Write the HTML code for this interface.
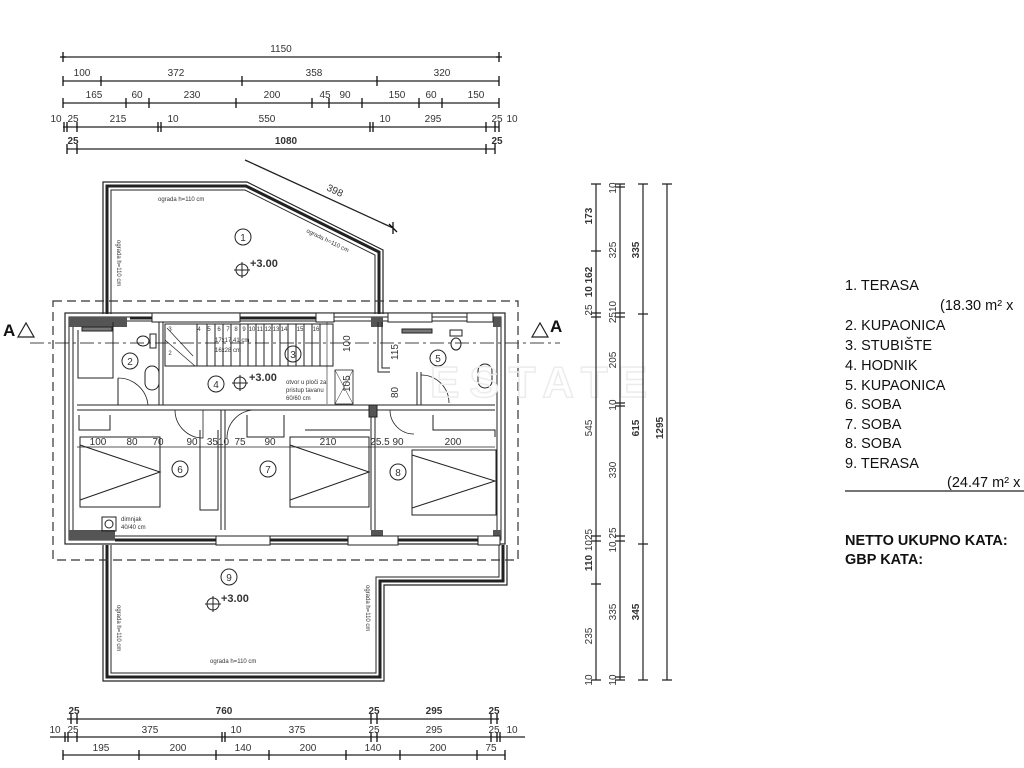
<!DOCTYPE html>
<html><head><meta charset="utf-8"><style>
html,body{margin:0;padding:0;background:#fff;}
svg{display:block}
text{font-family:"Liberation Sans",sans-serif;fill:#333}
.d{stroke:#222;stroke-width:1.3;fill:none}
.t{stroke:#111;stroke-width:1.3}
.w{stroke:#222;fill:none}
.lg{font-size:14.5px;fill:#111}
</style></head><body>
<svg width="1024" height="768" viewBox="0 0 1024 768" xmlns="http://www.w3.org/2000/svg">
<!-- TOP DIMENSIONS -->
<g font-size="10" text-anchor="middle">
<line class="d" x1="63" y1="57" x2="499" y2="57"/>
<path class="t" d="M63 52v10M499 52v10M60 57h6M496 57h6"/>
<text x="281" y="52">1150</text>

<line class="d" x1="63" y1="81" x2="499" y2="81"/>
<path class="t" d="M63 76v10M101 76v10M242 76v10M377 76v10M499 76v10"/>
<text x="82" y="76">100</text><text x="176" y="76">372</text><text x="314" y="76">358</text><text x="442" y="76">320</text>

<line class="d" x1="63" y1="103" x2="499" y2="103"/>
<path class="t" d="M63 98v10M126 98v10M149 98v10M236 98v10M312 98v10M329 98v10M362 98v10M419 98v10M442 98v10M499 98v10"/>
<text x="94" y="98">165</text><text x="137" y="98">60</text><text x="192" y="98">230</text><text x="272" y="98">200</text><text x="325" y="98">45</text><text x="345" y="98">90</text><text x="397" y="98">150</text><text x="431" y="98">60</text><text x="476" y="98">150</text>

<line class="d" x1="63" y1="127" x2="499" y2="127"/>
<path class="t" d="M64 122v10M67 122v10M77 122v10M158 122v10M161 122v10M370 122v10M373 122v10M486 122v10M495 122v10M499 122v10"/>
<text x="56" y="122">10</text><text x="73" y="122">25</text><text x="118" y="122">215</text><text x="173" y="122">10</text><text x="267" y="122">550</text><text x="385" y="122">10</text><text x="433" y="122">295</text><text x="497" y="122">25</text><text x="512" y="122">10</text>

<line class="d" x1="67" y1="149" x2="495" y2="149"/>
<path class="t" d="M67 144v10M77 144v10M486 144v10M495 144v10"/>
<text x="73" y="144" font-weight="bold">25</text><text x="286" y="144" font-weight="bold">1080</text><text x="497" y="144" font-weight="bold">25</text>
</g>

<!-- diagonal dim 398 -->
<line class="d" x1="245" y1="160" x2="393" y2="228" stroke-width="1"/>
<path class="t" d="M389 224l8 8M393 222v12"/>
<text x="326" y="190" font-size="10" transform="rotate(25 326 190)">398</text>

<!-- TERRACE 1 -->
<g class="w">
<path d="M103 314V182H247L383 250V314" stroke-width="1.2"/>
<path d="M107 314V186H246L379 252V314" stroke-width="3"/>
<path d="M111 314V190H245L375 255V314" stroke-width="1"/>
</g>
<!-- TERRACE 9 -->
<g class="w">
<path d="M103 545V681H384V585H507V545" stroke-width="1.2"/>
<path d="M107 545V677H380V581H503V545" stroke-width="3"/>
<path d="M111 545V673H376V577H499V545" stroke-width="1"/>
</g>

<!-- dashed outline -->
<rect x="53" y="301" width="465" height="259" fill="none" stroke="#333" stroke-width="1.2" stroke-dasharray="9,5"/>
<!-- section line -->
<line x1="30" y1="343" x2="560" y2="343" stroke="#444" stroke-width="1" stroke-dasharray="14,4,3,4"/>

<!-- MAIN BUILDING walls -->
<rect x="65" y="313" width="440" height="231" fill="none" stroke="#222" stroke-width="1.2"/>
<rect x="69" y="317" width="432" height="223" fill="none" stroke="#222" stroke-width="1"/>
<rect x="73" y="321" width="424" height="215" fill="none" stroke="#222" stroke-width="1"/>
<!-- hatched corner blocks -->
<g fill="#555">
<rect x="69" y="317" width="58" height="10"/>
<rect x="69" y="530" width="46" height="10"/>
<rect x="371" y="317" width="12" height="10"/>
<rect x="493" y="317" width="8" height="10"/>
<rect x="371" y="530" width="12" height="10"/>
<rect x="493" y="530" width="8" height="10"/>
<rect x="319" y="314" width="14" height="6"/>
</g>
<!-- window openings -->
<g fill="#fff" stroke="#222">
<rect x="152" y="313" width="88" height="9"/>
<rect x="316" y="313" width="18" height="9"/>
<rect x="388" y="313" width="44" height="9"/>
<rect x="467" y="313" width="26" height="9"/>
<rect x="216" y="536" width="54" height="9"/>
<rect x="348" y="536" width="50" height="9"/>
<rect x="478" y="536" width="22" height="9"/>
</g>
<line x1="130" y1="318" x2="152" y2="318" stroke="#222" stroke-width="3"/>
<line x1="240" y1="318" x2="316" y2="318" stroke="#222" stroke-width="3"/>
<line x1="115" y1="540" x2="216" y2="540" stroke="#222" stroke-width="3"/>
<line x1="270" y1="540" x2="348" y2="540" stroke="#222" stroke-width="3"/>
<line x1="398" y1="540" x2="478" y2="540" stroke="#222" stroke-width="3"/>

<!-- interior walls -->
<g stroke="#222" stroke-width="1" fill="none">
<path d="M77 405H495M77 410H495"/>
<path d="M159 322V405M163 322V405"/>
<path d="M221 410V530M225 410V530"/>
<path d="M371 410V530M375 410V530"/>
<rect x="369" y="405" width="8" height="12" fill="#555"/>
<path d="M378 322V372H390M382 322V368H390"/>
<path d="M417 372V405M421 372V405"/>
<path d="M78 330V378H113V322M118 378V405"/>
<rect x="82" y="327" width="30" height="4" fill="#777"/>
<ellipse cx="143" cy="341" rx="6" ry="5"/><rect x="150" y="334" width="6" height="14"/>
<rect x="145" y="366" width="14" height="24" rx="7"/>
<path d="M118 378a30 30 0 0 1 30 27" stroke-width="0.8"/>
<rect x="402" y="329" width="30" height="4" fill="#777"/>
<ellipse cx="456" cy="344" rx="5" ry="6"/><rect x="450" y="330" width="12" height="6"/>
<rect x="478" y="364" width="14" height="24" rx="7"/>
<path d="M421 375a28 28 0 0 1 28 28" stroke-width="0.8"/>
<rect x="165" y="324" width="168" height="42"/>
<path d="M197 324V366M207 324V366M215 324V366M223 324V366M231 324V366M240 324V366M248 324V366M256 324V366M264 324V366M272 324V366M280 324V366M288 324V366M296 324V366M304 324V366M312 324V366M320 324V366"/>
<path d="M165 340L195 366M167 328l26 28" stroke-width="0.7"/>
<rect x="335" y="370" width="18" height="34" stroke-width="0.8"/>
<path d="M335 370l18 34M353 370l-18 34" stroke-width="0.5"/>
<path d="M327 322V404" stroke-width="0.6"/>
<path d="M175 410a28 28 0 0 0 28 28V410" stroke-width="0.8"/>
<path d="M255 410a28 28 0 0 0 -28 28" stroke-width="0.8"/>
<path d="M390 410a24 24 0 0 0 24 24" stroke-width="0.8"/>
<path d="M79 415V430H110V415M200 430V510H218V430"/>
<path d="M247 415V437H284V415M305 430H370"/>
<path d="M433 415V430H495V437"/>
<rect x="80" y="437" width="80" height="70"/><path d="M80 445L160 472L80 500"/>
<rect x="290" y="437" width="79" height="70"/><path d="M290 445L369 472L290 500"/>
<rect x="412" y="450" width="84" height="65"/><path d="M412 455L495 481L412 508"/>
<rect x="102" y="517" width="14" height="14"/><circle cx="109" cy="524" r="4"/>
</g>
<g font-size="10" text-anchor="middle">
<line x1="77" y1="447" x2="495" y2="447" stroke="#222" stroke-width="0.8"/>
<text x="98" y="445">100</text><text x="132" y="445">80</text><text x="158" y="445">70</text><text x="192" y="445">90</text><text x="218" y="445">3510</text><text x="240" y="445">75</text><text x="270" y="445">90</text><text x="328" y="445">210</text><text x="380" y="445">25.5</text><text x="398" y="445">90</text><text x="453" y="445">200</text>
</g>
<g font-size="10" text-anchor="middle">
<g fill="none" stroke="#222"><circle cx="243" cy="237" r="8"/><circle cx="130" cy="361" r="8"/><circle cx="293" cy="354" r="8"/><circle cx="216" cy="384" r="8"/><circle cx="438" cy="358" r="8"/><circle cx="180" cy="469" r="8"/><circle cx="268" cy="469" r="8"/><circle cx="398" cy="472" r="8"/><circle cx="229" cy="577" r="8"/></g>
<text x="243" y="241">1</text><text x="130" y="365">2</text><text x="293" y="358">3</text><text x="216" y="388">4</text><text x="438" y="362">5</text><text x="180" y="473">6</text><text x="268" y="473">7</text><text x="398" y="476">8</text><text x="229" y="581">9</text>
</g>
<g stroke="#222" fill="none">
<circle cx="242" cy="270" r="6"/><path d="M234 270h16M242 262v16"/>
<circle cx="240" cy="383" r="6"/><path d="M232 383h16M240 375v16"/>
<circle cx="213" cy="604" r="6"/><path d="M205 604h16M213 596v16"/>
</g>
<g font-size="11" font-weight="bold">
<text x="250" y="267">+3.00</text><text x="249" y="381">+3.00</text><text x="221" y="602">+3.00</text>
</g>
<g font-size="6">
<text x="158" y="201">ograda h=110 cm</text>
<text x="306" y="232" transform="rotate(26 306 232)">ograda h=110 cm</text>
<text x="210" y="663">ograda h=110 cm</text>
<text x="117" y="240" transform="rotate(90 117 240)">ograda h=110 cm</text>
<text x="117" y="605" transform="rotate(90 117 605)">ograda h=110 cm</text>
<text x="366" y="585" transform="rotate(90 366 585)">ograda h=110 cm</text>
<text x="286" y="384">otvor u ploči za</text><text x="286" y="392">pristup tavanu</text><text x="286" y="400">60/60 cm</text>
<text x="215" y="342">17x17,41 cm</text><text x="215" y="352">16x28 cm</text>
<text x="121" y="521">dimnjak</text><text x="121" y="529">40/40 cm</text>
</g>
<g font-size="6" text-anchor="middle">
<text x="199" y="331">4</text><text x="209" y="331">5</text><text x="219" y="331">6</text><text x="228" y="331">7</text><text x="236" y="331">8</text><text x="244" y="331">9</text><text x="252" y="331">10</text><text x="260" y="331">11</text><text x="268" y="331">12</text><text x="276" y="331">13</text><text x="284" y="331">14</text><text x="300" y="331">15</text><text x="316" y="331">16</text><text x="170" y="331">3</text><text x="170" y="355">2</text>
</g>
<g font-size="10">
<text x="350" y="352" transform="rotate(-90 350 352)">100</text>
<text x="398" y="360" transform="rotate(-90 398 360)">115</text>
<text x="398" y="398" transform="rotate(-90 398 398)">80</text>
<text x="350" y="392" transform="rotate(-90 350 392)">105</text>
</g>

<text x="3" y="336" font-size="17" font-weight="bold" style="fill:#111">A</text>
<path d="M18 337L26 323L34 337Z" fill="#fff" stroke="#222" stroke-width="1.2"/>
<path d="M532 337L540 323L548 337Z" fill="#fff" stroke="#222" stroke-width="1.2"/>
<text x="550" y="332" font-size="17" font-weight="bold" style="fill:#111">A</text>

<!-- watermark -->
<text x="430" y="397" font-size="44" font-weight="bold" letter-spacing="10" style="fill:none;stroke:#ececec;stroke-width:1.5">ESTATE</text>

<!-- RIGHT VERTICAL DIMS -->
<g stroke="#222" stroke-width="1.2">
<line x1="596" y1="184" x2="596" y2="680"/>
<line x1="620" y1="184" x2="620" y2="680"/>
<line x1="643" y1="184" x2="643" y2="680"/>
<line x1="667" y1="184" x2="667" y2="680"/>
<path d="M591 184h10M591 251h10M591 313h10M591 317h10M591 536h10M591 541h10M591 584h10M591 680h10"/>
<path d="M615 184h10M615 187h10M615 313h10M615 317h10M615 403h10M615 406h10M615 536h10M615 541h10M615 677h10M615 680h10"/>
<path d="M638 184h10M638 314h10M638 544h10M638 680h10"/>
<path d="M662 184h10M662 680h10"/>
</g>
<g font-size="10" text-anchor="middle">
<text transform="translate(592 216) rotate(-90)" font-weight="bold">173</text>
<text transform="translate(592 282) rotate(-90)" font-weight="bold">10 162</text>
<text transform="translate(592 310) rotate(-90)">25</text>
<text transform="translate(592 428) rotate(-90)">545</text>
<text transform="translate(592 540) rotate(-90)">1025</text>
<text transform="translate(592 563) rotate(-90)" font-weight="bold">110</text>
<text transform="translate(592 636) rotate(-90)">235</text>
<text transform="translate(592 680) rotate(-90)">10</text>
<text transform="translate(616 188) rotate(-90)">10</text>
<text transform="translate(616 250) rotate(-90)">325</text>
<text transform="translate(616 312) rotate(-90)">2510</text>
<text transform="translate(616 360) rotate(-90)">205</text>
<text transform="translate(616 405) rotate(-90)">10</text>
<text transform="translate(616 470) rotate(-90)">330</text>
<text transform="translate(616 540) rotate(-90)">10 25</text>
<text transform="translate(616 612) rotate(-90)">335</text>
<text transform="translate(616 680) rotate(-90)">10</text>
<text transform="translate(639 250) rotate(-90)" font-weight="bold">335</text>
<text transform="translate(639 428) rotate(-90)" font-weight="bold">615</text>
<text transform="translate(639 612) rotate(-90)" font-weight="bold">345</text>
<text transform="translate(663 428) rotate(-90)" font-weight="bold">1295</text>
</g>

<!-- LEGEND -->
<g class="lg">
<text x="845" y="290" style="fill:#111">1. TERASA</text>
<text x="940" y="310" style="fill:#111">(18.30 m² x</text>
<text x="845" y="330" style="fill:#111">2. KUPAONICA</text>
<text x="845" y="350" style="fill:#111">3. STUBIŠTE</text>
<text x="845" y="370" style="fill:#111">4. HODNIK</text>
<text x="845" y="390" style="fill:#111">5. KUPAONICA</text>
<text x="845" y="409" style="fill:#111">6. SOBA</text>
<text x="845" y="429" style="fill:#111">7. SOBA</text>
<text x="845" y="448" style="fill:#111">8. SOBA</text>
<text x="845" y="468" style="fill:#111">9. TERASA</text>
<text x="947" y="487" style="fill:#111">(24.47 m² x</text>
<text x="845" y="545" font-weight="bold" style="fill:#111">NETTO UKUPNO KATA:</text>
<text x="845" y="564" font-weight="bold" style="fill:#111">GBP KATA:</text>
</g>
<line x1="845" y1="491" x2="1024" y2="491" stroke="#222" stroke-width="1.2"/>

<!-- BOTTOM DIMS -->
<g font-size="10" text-anchor="middle">
<line class="d" x1="67" y1="719" x2="499" y2="719"/>
<path class="t" d="M71 714v10M77 714v10M371 714v10M377 714v10M491 714v10M497 714v10"/>
<text x="74" y="714" font-weight="bold">25</text><text x="224" y="714" font-weight="bold">760</text><text x="374" y="714" font-weight="bold">25</text><text x="434" y="714" font-weight="bold">295</text><text x="494" y="714" font-weight="bold">25</text>

<line class="d" x1="50" y1="737" x2="525" y2="737"/>
<path class="t" d="M65 732v10M68 732v10M77 732v10M222 732v10M225 732v10M371 732v10M377 732v10M491 732v10M497 732v10M500 732v10"/>
<text x="55" y="733">10</text><text x="73" y="733">25</text><text x="150" y="733">375</text><text x="236" y="733">10</text><text x="297" y="733">375</text><text x="374" y="733">25</text><text x="434" y="733">295</text><text x="494" y="733">25</text><text x="512" y="733">10</text>

<line class="d" x1="63" y1="755" x2="505" y2="755"/>
<path class="t" d="M63 750v10M139 750v10M216 750v10M269 750v10M346 750v10M400 750v10M477 750v10M505 750v10"/>
<text x="101" y="751">195</text><text x="178" y="751">200</text><text x="243" y="751">140</text><text x="308" y="751">200</text><text x="373" y="751">140</text><text x="438" y="751">200</text><text x="491" y="751">75</text>
</g>
</svg>
</body></html>
